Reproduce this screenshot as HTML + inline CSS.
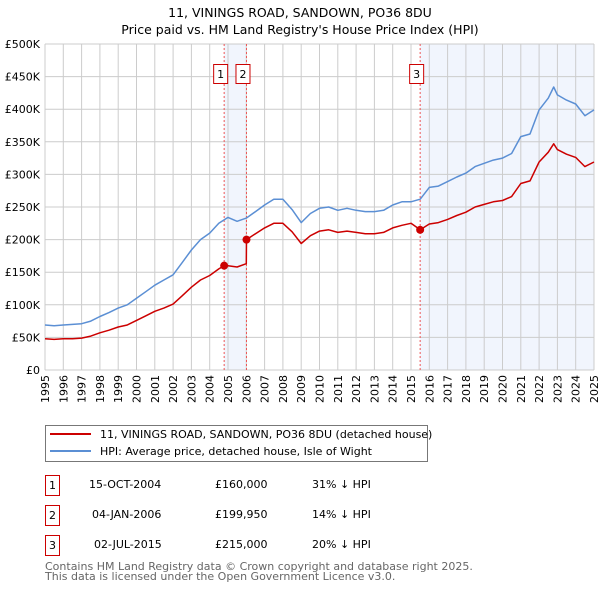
<!DOCTYPE html>
<html><head><meta charset="utf-8"><style>
body{margin:0;background:#fff;font-family:"DejaVu Sans","Liberation Sans",sans-serif;}
</style></head><body>
<svg id="c" width="600" height="590" xmlns="http://www.w3.org/2000/svg" font-family="DejaVu Sans, Liberation Sans, sans-serif">
<text x="300" y="17" text-anchor="middle" font-size="12.5">11, VININGS ROAD, SANDOWN, PO36 8DU</text>
<text x="300" y="34" text-anchor="middle" font-size="12.5">Price paid vs. HM Land Registry's House Price Index (HPI)</text>
<g id="plot"></g>
<g>
<rect x="45.5" y="425.5" width="382" height="36" fill="#fff" stroke="#777"/>
<line x1="50" y1="434" x2="91" y2="434" stroke="#cc0000" stroke-width="2"/>
<text x="100" y="438" font-size="11">11, VININGS ROAD, SANDOWN, PO36 8DU (detached house)</text>
<line x1="50" y1="451" x2="91" y2="451" stroke="#5b8fd4" stroke-width="2"/>
<text x="100" y="455" font-size="11">HPI: Average price, detached house, Isle of Wight</text>
</g>
<g font-size="11">
<rect x="45.5" y="475.5" width="14" height="20" fill="none" stroke="#cc0000"/><text x="52.5" y="489" text-anchor="middle">1</text>
<text x="89" y="488">15-OCT-2004</text><text x="215" y="488">£160,000</text><text x="312" y="488">31% ↓ HPI</text>
<rect x="45.5" y="505.5" width="14" height="20" fill="none" stroke="#cc0000"/><text x="52.5" y="519" text-anchor="middle">2</text>
<text x="92" y="518">04-JAN-2006</text><text x="215" y="518">£199,950</text><text x="312" y="518">14% ↓ HPI</text>
<rect x="45.5" y="535.5" width="14" height="20" fill="none" stroke="#cc0000"/><text x="52.5" y="549" text-anchor="middle">3</text>
<text x="94" y="548">02-JUL-2015</text><text x="215" y="548">£215,000</text><text x="312" y="548">20% ↓ HPI</text>
</g>
<text x="45" y="570" font-size="11" fill="#666">Contains HM Land Registry data © Crown copyright and database right 2025.</text>
<text x="45" y="580" font-size="11" fill="#666">This data is licensed under the Open Government Licence v3.0.</text>
</svg>
<script>
const hpiYears=[1995,1995.5,1996,1996.5,1997,1997.5,1998,1998.5,1999,1999.5,2000,2000.5,2001,2001.5,2002,2002.5,2003,2003.5,2004,2004.5,2005,2005.5,2006,2006.5,2007,2007.5,2008,2008.5,2009,2009.5,2010,2010.5,2011,2011.5,2012,2012.5,2013,2013.5,2014,2014.5,2015,2015.5,2016,2016.5,2017,2017.5,2018,2018.5,2019,2019.5,2020,2020.5,2021,2021.5,2022,2022.5,2022.8,2023,2023.5,2024,2024.5,2025];
const hpiValues=[69,68,69,70,71,75,82,88,95,100,110,120,130,138,146,165,184,200,210,225,234,228,233,243,253,262,262,246,226,240,248,250,245,248,245,243,243,245,253,258,258,262,280,282,289,296,302,312,317,322,325,332,358,362,399,417,434,422,414,408,390,399];
const priceYears=[1995,1995.5,1996,1996.5,1997,1997.5,1998,1998.5,1999,1999.5,2000,2000.5,2001,2001.5,2002,2002.5,2003,2003.5,2004,2004.5,2004.79,2005,2005.5,2006,2006.01,2006.5,2007,2007.5,2008,2008.5,2009,2009.5,2010,2010.5,2011,2011.5,2012,2012.5,2013,2013.5,2014,2014.5,2015,2015.5,2016,2016.5,2017,2017.5,2018,2018.5,2019,2019.5,2020,2020.5,2021,2021.5,2022,2022.5,2022.8,2023,2023.5,2024,2024.5,2025];
const priceValues=[48,47,48,48,49,52,57,61,66,69,76,83,90,95,101,114,127,138,145,155,160,160,158,163,200,209,218,225,225,212,194,206,213,215,211,213,211,209,209,211,218,222,225,215,224,226,231,237,242,250,254,258,260,266,286,290,319,334,347,338,331,326,312,319];
const saleLabels=["1","2","3"];
const saleYears=[2004.79,2006.01,2015.5];
const saleValues=[160,199.95,215];
const yTicks=[0,50,100,150,200,250,300,350,400,450,500];
const yTickLabels=["£0","£50K","£100K","£150K","£200K","£250K","£300K","£350K","£400K","£450K","£500K"];
const xTicks=[];for(let y=1995;y<=2025;y++)xTicks.push(y);

const X0=45,X1=594,Y0=370,Y1=44;
const xs=v=>X0+(v-1995)/30*(X1-X0);
const ys=v=>Y0-v/500*(Y0-Y1);
const NS="http://www.w3.org/2000/svg";
const g=document.getElementById('plot');
function mk(t,a,p){const e=document.createElementNS(NS,t);for(const k in a)e.setAttribute(k,a[k]);(p||g).appendChild(e);return e;}
let s1=mk('rect',{x:xs(saleYears[0]),y:Y1,width:xs(saleYears[1])-xs(saleYears[0]),height:Y0-Y1,fill:'#eef3fc',opacity:0.8});


let s2=mk('rect',{x:xs(saleYears[2]),y:Y1,width:X1-xs(saleYears[2]),height:Y0-Y1,fill:'#eef3fc',opacity:0.8});


xTicks.forEach(t=>{let l=mk('line',{x1:xs(t),x2:xs(t),y1:Y1,y2:Y0,stroke:'#ccc','stroke-width':1});


let tx=mk('text',{x:0,y:0,'font-size':11,'text-anchor':'end',transform:'translate('+(xs(t)+4)+','+(Y0+5)+') rotate(-90)'});tx.textContent=t;

});
yTicks.forEach((t,i)=>{let l=mk('line',{x1:X0,x2:X1,y1:ys(t),y2:ys(t),stroke:'#ccc','stroke-width':1});


let tx=mk('text',{x:X0-5,y:ys(t)+4,'font-size':11,'text-anchor':'end'});tx.textContent=yTickLabels[i];

});
saleYears.forEach((y,i)=>{let l=mk('line',{x1:xs(y),x2:xs(y),y1:Y1,y2:Y0,stroke:'#e55','stroke-width':1,'stroke-dasharray':'2,2'});


let r=mk('rect',{x:xs(y)-10.5,y:64.5,width:14,height:19,fill:'#fff',stroke:'#cc0000'});


let t=mk('text',{x:xs(y)-3.5,y:78,'font-size':11,'text-anchor':'middle'});t.textContent=saleLabels[i];

});
function path(xa,va,col,name){let d=xa.map((x,i)=>(i?'L':'M')+xs(x).toFixed(1)+','+ys(va[i]).toFixed(1)).join('');
let p=mk('path',{d:d,fill:'none',stroke:col,'stroke-width':1.5,'stroke-linejoin':'round'});

}
path(hpiYears,hpiValues,'#5b8fd4','hpi-line');
path(priceYears,priceValues,'#cc0000','price-paid-line');
saleYears.forEach((y,i)=>{let c=mk('circle',{cx:xs(y),cy:ys(saleValues[i]),r:4,fill:'#cc0000'});

});
</script>
</body></html>
